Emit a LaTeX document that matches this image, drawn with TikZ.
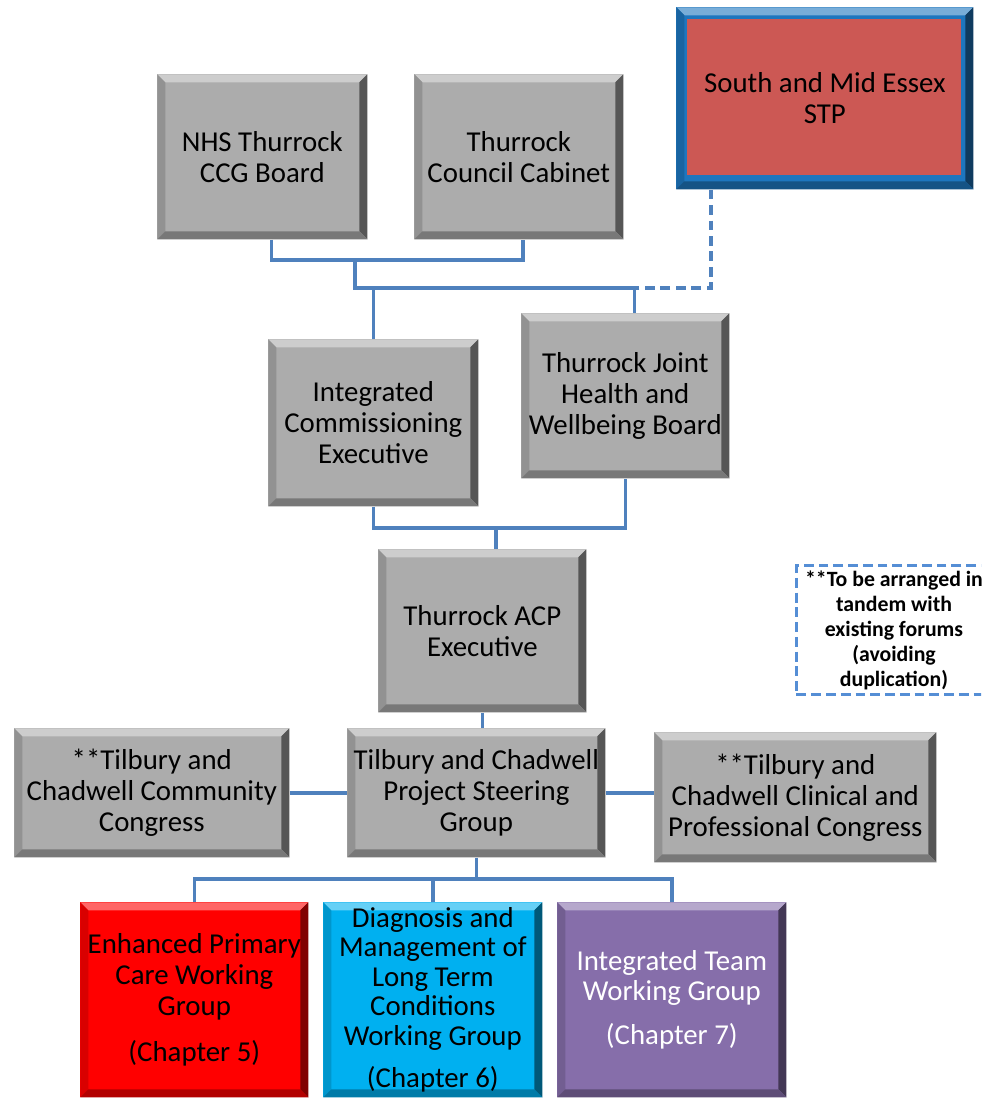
\documentclass[tikz,border=0pt]{standalone}
\usepackage{fontspec}
\setmainfont{Carlito}
\usepackage{xcolor}
\usepackage{tikz}

\definecolor{boxgray}{RGB}{172,172,172}
\definecolor{linkblue}{RGB}{79,129,189}
\definecolor{noteblue}{RGB}{85,142,213}
\definecolor{stpblue}{RGB}{30,118,190}
\definecolor{stpred}{RGB}{204,88,84}
\definecolor{epcred}{RGB}{255,0,0}
\definecolor{ltccyan}{RGB}{0,176,240}
\definecolor{itpurple}{RGB}{134,110,170}

\newcommand{\boxfont}{\fontsize{20.5}{22}\selectfont}
\newcommand{\notefont}{\fontsize{15.5}{17.8}\selectfont\bfseries}
\newcommand{\pb}{path picture bounding box}
% bevelled edges of a box, drawn behind its text
\newcommand{\bevelfill}[1]{%
  \fill[#1!60!white] (\pb.north west) -- (\pb.north east) -- ++(-0.2cm,-0.2cm)
    -- ([shift={(0.2cm,-0.2cm)}]\pb.north west) -- cycle;
  \fill[#1!85!black] (\pb.north west) -- ([shift={(0.2cm,-0.2cm)}]\pb.north west)
    -- ([shift={(0.2cm,0.2cm)}]\pb.south west) -- (\pb.south west) -- cycle;
  \fill[#1!50!black] (\pb.north east) -- ++(-0.2cm,-0.2cm)
    -- ([shift={(-0.2cm,0.2cm)}]\pb.south east) -- (\pb.south east) -- cycle;
  \fill[#1!70!black] (\pb.south west) -- ++(0.2cm,0.2cm)
    -- ([shift={(-0.2cm,0.2cm)}]\pb.south east) -- (\pb.south east) -- cycle;
}

\begin{document}
\begin{tikzpicture}[
	x=0.025cm, y=0.025cm
]
\tikzset{
    orgbox/.style = {rectangle, anchor=north west, align=center, inner sep=1pt, font=\boxfont, fill=#1, path picture={\bevelfill{#1}}},
    orgbox/.default = boxgray,
    notebox/.style = {rectangle, anchor=north west, align=center, draw=noteblue, line width=2.1pt, dash pattern=on 7pt off 3.5pt, inner sep=1pt, font=\notefont},
    link/.style = {draw=linkblue, line width=2.5pt},
    stplink/.style = {draw=linkblue, line width=2.8pt, dash pattern=on 7pt off 4pt}
}
\useasboundingbox (0,0) rectangle (981,-1099);
\clip (0,0) rectangle (981,-1099);

% boards
\node[orgbox, minimum width=5.25cm, minimum height=4.125cm] (ccg) at (157,-74) {NHS Thurrock\\CCG Board};
\node[orgbox, minimum width=5.225cm, minimum height=4.125cm] (cab) at (414,-74) {Thurrock\\Council Cabinet};
\node[orgbox=stpblue, minimum width=7.425cm, minimum height=4.55cm,
  path picture={\bevelfill{stpblue}\fill[stpred] ([shift={(0.275cm,-0.3cm)}]\pb.north west) rectangle ([shift={(-0.3cm,0.35cm)}]\pb.south east);}]
  (stp) at (676,-7) {South and Mid Essex\\STP};
\node[orgbox, minimum width=5.25cm, minimum height=4.175cm] (ice) at (268,-339) {Integrated\\Commissioning\\Executive};
\node[orgbox, minimum width=5.2cm, minimum height=4.125cm] (jhwb) at (521,-313) {Thurrock Joint\\Health and\\Wellbeing Board};
\node[orgbox, minimum width=5.2cm, minimum height=4.075cm] (acp) at (378,-549) {Thurrock ACP\\Executive};

% steering group and congresses
\node[orgbox, minimum width=6.875cm, minimum height=3.225cm] (comm) at (14,-728) {**Tilbury and\\Chadwell Community\\Congress};
\node[orgbox, minimum width=6.45cm, minimum height=3.225cm] (psg) at (347,-728) {Tilbury and Chadwell\\Project Steering\\Group};
\node[orgbox, minimum width=7.05cm, minimum height=3.25cm] (clin) at (654,-732) {**Tilbury and\\Chadwell Clinical and\\Professional Congress};
\node[notebox, minimum width=4.875cm, minimum height=3.225cm] (note) at (795,-564) {**To be arranged in\\tandem with\\existing forums\\(avoiding\\duplication)};

% working groups
\node[orgbox=epcred, minimum width=5.7cm, minimum height=4.875cm] (epc) at (80,-902) {Enhanced Primary\\Care Working\\Group\\[0.5em](Chapter 5)};
\node[orgbox=ltccyan, minimum width=5.475cm, minimum height=4.875cm, font=\fontsize{20.5}{21}\selectfont] (ltc) at (323,-902) {Diagnosis and\\Management of\\Long Term\\Conditions\\Working Group\\[0.45em](Chapter 6)};
\node[orgbox=itpurple, minimum width=5.725cm, minimum height=4.875cm, text=white, font=\fontsize{20.5}{21.5}\selectfont] (itwg) at (557,-902) {Integrated Team\\Working Group\\[0.5em](Chapter 7)};

% connectors
\coordinate (jtop) at (355,-260);
\coordinate (jmid) at (355,-288);
\coordinate (dashend) at (568,-288);
\coordinate (jacp) at (496,-528);
\coordinate (jbot) at (478,-879);

\draw[link] ([xshift=0.225cm]ccg.south) |- (jtop) -| ([xshift=0.1cm]cab.south);
\draw[link] (jtop) -- (jmid) -| ([xshift=0.225cm]jhwb.north);
\draw[link] (ice.north) -- (ice.north |- jmid);
\draw[stplink] ([xshift=0.875cm]stp.south west) |- (dashend);

\draw[link] (ice.south) |- (jacp) -| (jhwb.south);
\draw[link] (jacp) -- (jacp |- acp.north);

\draw[link] (acp.south) -- (acp.south |- psg.north);
\draw[link] (comm.east) -- (psg.west);
\draw[link] (psg.east) -- (psg.east -| clin.west);

\draw[link] (psg.south) -- (psg.south |- jbot);
\draw[link] (epc.north) |- (jbot) -| (itwg.north);
\draw[link] (ltc.north) -- (ltc.north |- jbot);
\end{tikzpicture}
\end{document}
